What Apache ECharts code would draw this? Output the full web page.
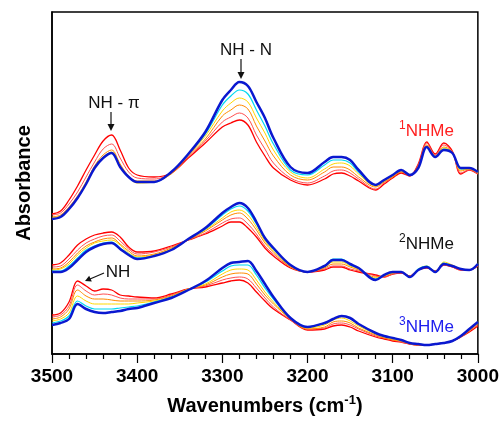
<!DOCTYPE html>
<html><head><meta charset="utf-8">
<script src="https://cdn.jsdelivr.net/npm/echarts@6/dist/echarts.min.js"></script>
<style>html,body{margin:0;padding:0;background:#fff}#c{width:502px;height:422px}</style>
</head><body><div id="c"></div>
<script>
// Wavenumbers (cm-1), shared by every spectrum
const wavenumbers = [3500,3490,3480,3470,3460,3450,3440,3430,3420,3410,3400,3380,3360,3340,3320,3300,3290,3280,3270,3260,3250,3240,3220,3200,3180,3170,3160,3150,3140,3120,3110,3100,3090,3080,3070,3060,3050,3040,3030,3020,3010,3000];
const xTicks = [3500,3400,3300,3200,3100,3000];

// Relative absorbance (arb. units, offset stacks)
// 1NHMe
const g1_red    = [140,143,154,168,184,199,213,219,204,186,179,177,181,196,211,227,231,234,229,212,198,186,174,169,175,180,181,178,173,164,170,176,181,178,190,212,200,211,203,180,184,180];
const g1_red2   = [139,141,150,162,177,192,205,210,196,182,176,175,181,197,213,232,237,241,236,219,205,191,176,171,178,183,184,181,175,165,171,177,182,178,189,211,199,209,202,181,184,180];
const g1_orange = [137,139,147,158,172,188,199,204,190,178,173,173,180,198,215,238,244,249,245,228,213,198,179,174,182,187,187,184,177,167,172,177,182,179,188,209,198,207,202,183,185,181];
const g1_yellow = [136,138,146,157,171,187,197,202,188,177,171,172,182,199,218,243,251,256,252,236,221,204,182,176,185,190,191,188,180,168,173,178,183,179,187,208,198,206,201,184,185,181];
const g1_cyan   = [135,137,145,156,170,186,196,201,187,177,172,172,182,200,220,249,258,264,260,244,228,210,184,179,189,194,194,191,182,169,174,179,184,179,186,207,197,205,201,185,186,182];
const g1_blue   = [135,137,145,156,170,186,196,201,187,177,172,172,182,200,222,254,264,272,268,252,236,216,187,181,192,197,197,194,184,169,174,179,184,179,186,207,197,204,201,186,186,182];
// 2NHMe
const g2_red    = [89,91,99,109,115,119,121,122,117,107,102,103,108,114,120,128,132,132,126,117,106,98,86,82,84,87,87,84,82,79,77,80,81,78,84,86,83,89,87,84,84,88];
const g2_red2   = [87,88,95,104,111,115,118,119,113,105,100,102,107,114,121,131,135,136,130,120,108,100,87,82,85,88,88,85,83,78,77,80,81,78,84,86,83,89,87,84,84,88];
const g2_orange = [85,86,92,101,108,112,115,116,110,103,98,100,106,114,123,134,139,141,135,124,111,102,87,82,86,90,90,87,84,77,78,81,82,78,84,87,83,90,88,85,84,89];
const g2_yellow = [84,85,90,99,106,111,113,114,109,101,97,99,105,115,124,136,142,144,139,127,113,103,88,82,87,92,92,88,85,76,78,81,82,77,85,88,82,92,89,85,84,89];
const g2_cyan   = [83,83,88,96,104,108,111,112,106,100,96,98,104,115,125,139,145,148,143,130,115,105,89,82,88,95,95,89,86,75,79,82,82,77,85,88,82,91,88,85,84,90];
const g2_blue   = [82,82,86,94,102,107,110,111,105,99,95,98,104,115,126,141,147,151,146,132,116,106,89,82,88,94,94,90,86,74,79,82,82,77,84,87,82,90,88,85,84,90];
// 3NHMe
const g3_red    = [39,41,52,73,68,63,65,64,59,58,57,56,60,65,67,71,73,74,71,62,53,45,34,24,25,28,29,27,23,17,15,13,12,10,9,9,10,11,13,17,22,28];
const g3_red2   = [37,39,48,69,63,59,60,59,56,55,55,55,59,65,68,74,76,77,75,66,56,47,34,25,26,30,31,29,25,18,16,14,12,10,9,9,10,11,13,17,23,29];
const g3_orange = [35,37,45,64,58,55,55,54,53,53,53,54,58,65,69,77,80,81,80,70,59,50,35,25,27,32,33,31,26,19,16,14,13,10,9,9,10,11,13,17,23,30];
const g3_yellow = [33,35,41,58,53,50,50,50,50,50,51,53,57,65,70,80,84,85,84,74,62,52,35,26,29,34,36,33,28,20,17,15,13,11,10,9,10,11,13,18,24,31];
const g3_cyan   = [31,33,38,53,48,45,45,45,46,47,48,52,57,64,72,83,88,89,89,79,66,55,36,27,31,35,38,36,30,21,18,16,14,11,10,9,10,11,13,18,25,32];
const g3_blue   = [29,31,35,50,45,42,41,42,43,45,46,51,56,64,73,86,91,92,93,83,70,57,36,27,31,35,38,36,30,21,18,16,14,11,10,9,10,11,13,18,25,32];

const groups = [
  [g1_red,g1_red2,g1_orange,g1_yellow,g1_cyan,g1_blue],
  [g2_red,g2_red2,g2_orange,g2_yellow,g2_cyan,g2_blue],
  [g3_red,g3_red2,g3_orange,g3_yellow,g3_cyan,g3_blue]
];
const lineColors = ['#ff0000','#ff5050','#ff8a00','#ffd800','#00d8f0','#0a18d0'];
const lineWidths = [1.3,1,1,1,1.2,2.5];

const FONT = 'Liberation Sans, Arial, Helvetica, sans-serif';
const series = [];
groups.forEach((g, gi) => {
  g.forEach((arr, li) => {
    series.push({
      type: 'line', name: 'g' + (gi+1) + '_' + li,
      data: wavenumbers.map((w, i) => [w, arr[i]]),
      showSymbol: false, smooth: 0.35, silent: true,
      lineStyle: { color: lineColors[li], width: lineWidths[li] },
      z: 2 + li
    });
  });
});

const chart = echarts.init(document.getElementById('c'), null, { renderer: 'canvas' });
chart.setOption({
  animation: false,
  backgroundColor: '#fff',
  grid: { left: 52, right: 23, top: 12, bottom: 68, show: true, borderColor: '#000', borderWidth: 1.5, backgroundColor: 'transparent' },
  xAxis: {
    type: 'value', inverse: true, min: 3000, max: 3500, interval: 100,
    axisLine: { show: true, lineStyle: { color: '#000', width: 1.5 } },
    axisTick: { show: true, length: 9, inside: false, lineStyle: { color: '#000', width: 1.2 } },
    minorTick: { show: true, splitNumber: 5, length: 5, lineStyle: { color: '#000', width: 1.2 } },
    splitLine: { show: false },
    axisLabel: { margin: 13, fontSize: 19, fontWeight: 'bold', color: '#000', fontFamily: FONT,
      formatter: v => xTicks.indexOf(v) >= 0 ? String(v) : '' },
    name: '{b|Wavenumbers (cm}{s|-1}{b|)}', nameLocation: 'middle', nameGap: 40,
    nameTextStyle: { fontFamily: FONT, color: '#000',
      rich: { b: { fontSize: 20, fontWeight: 'bold', fontFamily: FONT, color: '#000', lineHeight: 24 },
              s: { fontSize: 13, fontWeight: 'bold', fontFamily: FONT, color: '#000', lineHeight: 14, verticalAlign: 'top' } } }
  },
  yAxis: {
    type: 'value', min: 0, max: 342,
    axisLine: { show: true, lineStyle: { color: '#000', width: 1.5 } },
    axisTick: { show: false }, axisLabel: { show: false }, splitLine: { show: false },
    name: 'Absorbance', nameLocation: 'middle', nameGap: 18, nameRotate: 90,
    nameTextStyle: { fontSize: 20, fontWeight: 'bold', color: '#000', fontFamily: FONT }
  },
  series: series,
  graphic: [
    { type: 'text', x: 114, y: 103, style: { text: 'NH - π', fontSize: 17, fontFamily: FONT, fill: '#111', align: 'center', verticalAlign: 'middle' } },
    { type: 'line', shape: { x1: 111, y1: 112, x2: 111, y2: 125 }, style: { stroke: '#111', lineWidth: 1.2 } },
    { type: 'polygon', shape: { points: [[107.5,124],[114.5,124],[111,131]] }, style: { fill: '#111' } },
    { type: 'text', x: 246, y: 50, style: { text: 'NH - N', fontSize: 17, fontFamily: FONT, fill: '#111', align: 'center', verticalAlign: 'middle' } },
    { type: 'line', shape: { x1: 241, y1: 59, x2: 241, y2: 73 }, style: { stroke: '#111', lineWidth: 1.2 } },
    { type: 'polygon', shape: { points: [[237.5,72],[244.5,72],[241,79]] }, style: { fill: '#111' } },
    { type: 'text', x: 118, y: 272, style: { text: 'NH', fontSize: 17, fontFamily: FONT, fill: '#111', align: 'center', verticalAlign: 'middle' } },
    { type: 'line', shape: { x1: 104, y1: 273, x2: 90, y2: 279 }, style: { stroke: '#111', lineWidth: 1.2 } },
    { type: 'polygon', shape: { points: [[85,281],[89.2,275.8],[91.8,281.6]] }, style: { fill: '#111' } },
    { type: 'text', x: 399, y: 131, style: { text: '{s|1}{b|NHMe}', align: 'left', verticalAlign: 'middle',
      rich: { b: { fontSize: 17, fontFamily: FONT, fill: '#ff2020', lineHeight: 22 }, s: { fontSize: 12, fontFamily: FONT, fill: '#ff2020', lineHeight: 12, verticalAlign: 'top' } } } },
    { type: 'text', x: 399, y: 244, style: { text: '{s|2}{b|NHMe}', align: 'left', verticalAlign: 'middle',
      rich: { b: { fontSize: 17, fontFamily: FONT, fill: '#111', lineHeight: 22 }, s: { fontSize: 12, fontFamily: FONT, fill: '#111', lineHeight: 12, verticalAlign: 'top' } } } },
    { type: 'text', x: 399, y: 327, style: { text: '{s|3}{b|NHMe}', align: 'left', verticalAlign: 'middle',
      rich: { b: { fontSize: 17, fontFamily: FONT, fill: '#2020ee', lineHeight: 22 }, s: { fontSize: 12, fontFamily: FONT, fill: '#2020ee', lineHeight: 12, verticalAlign: 'top' } } } }
  ]
});
</script></body></html>
